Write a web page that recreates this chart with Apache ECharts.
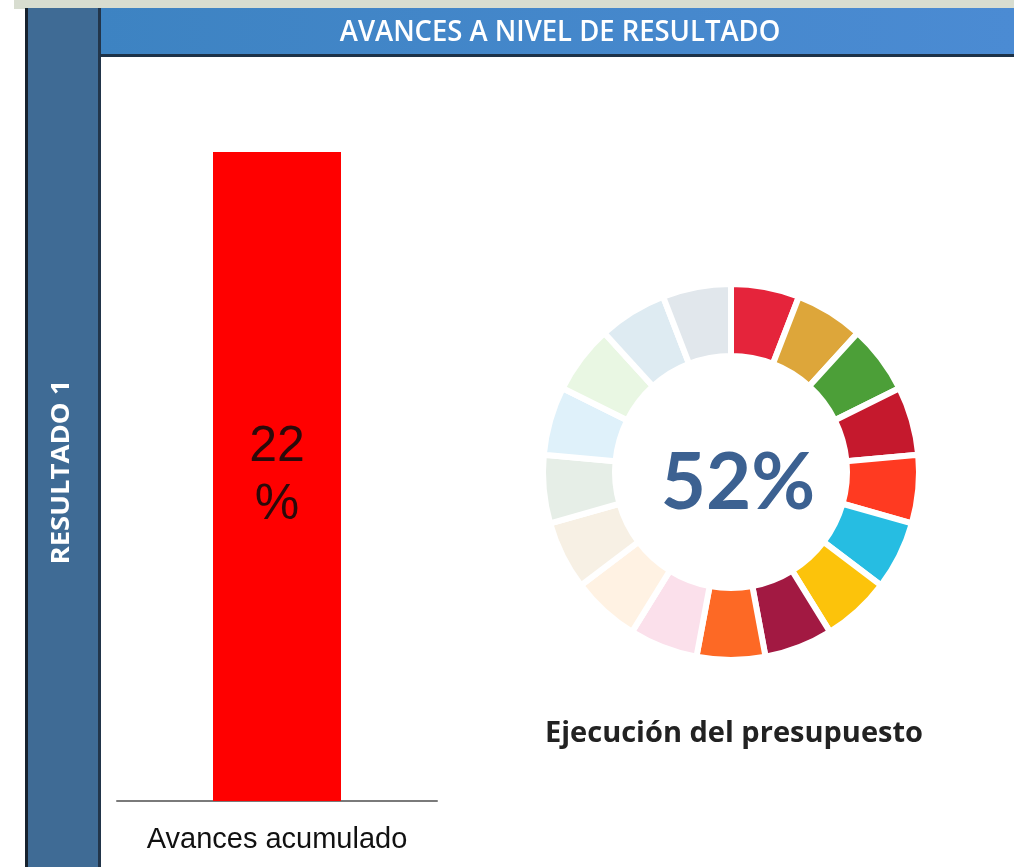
<!DOCTYPE html>
<html>
<head>
<meta charset="utf-8">
<script src="https://cdn.jsdelivr.net/npm/echarts@6/dist/echarts.min.js"></script>
<style>
  html, body { margin: 0; padding: 0; background: #fff; }
  #chart { width: 1014px; height: 867px; }
</style>
</head>
<body>
<div id="chart"></div>
<script>
// datos
const barCategories = ['Avances acumulado']
const barValues = [22]
const budgetPct = 52
// colores de los 17 segmentos (rueda ODS)
const goalColors = [
  '#E5243B', '#DDA63A', '#4C9F38', '#C5192D', '#FF3A21', '#26BDE2',
  '#FCC30B', '#A21942', '#FD6925', '#DD1367', '#FD9D24', '#BF8B2E',
  '#3F7E44', '#0A97D9', '#56C02B', '#00689D', '#19486A'
]
const goalActiveCount = 9

// mezcla un color con blanco (segmentos no alcanzados)
const fade = (hex, a) => {
  const n = parseInt(hex.slice(1), 16)
  const ch = [(n >> 16) & 255, (n >> 8) & 255, n & 255].map(v => Math.round(255 - (255 - v) * a))
  return `rgb(${ch.join(',')})`
}

const chart = echarts.init(document.getElementById('chart'))

chart.setOption({
  animation: false,
  backgroundColor: '#fff',
  graphic: [
    // franja superior
    { type: 'rect', shape: { x: 14, y: 0, width: 1000, height: 9 }, style: { fill: '#d8ddd0' }, z: -10 },
    // barra lateral
    { type: 'rect', shape: { x: 25, y: 8, width: 76, height: 859 }, style: { fill: '#3f6b95' }, z: -5 },
    { type: 'rect', shape: { x: 25, y: 8, width: 3, height: 859 }, style: { fill: '#17222e' }, z: -4 },
    { type: 'rect', shape: { x: 98, y: 8, width: 3, height: 859 }, style: { fill: '#22354a' }, z: -4 },
    // cabecera
    {
      type: 'rect', shape: { x: 100, y: 8, width: 914, height: 48 },
      style: {
        fill: new echarts.graphic.LinearGradient(0, 0, 1, 0, [
          { offset: 0, color: '#3d83c2' },
          { offset: 1, color: '#4b8bd3' }
        ])
      },
      z: -5
    },
    { type: 'rect', shape: { x: 100, y: 54, width: 914, height: 3 }, style: { fill: '#1d3248' }, z: -4 },
    {
      type: 'text', x: 560, y: 33, scaleX: 0.98,
      style: {
        text: 'AVANCES A NIVEL DE RESULTADO',
        fill: '#fff', font: '600 28px "Open Sans"',
        align: 'center', verticalAlign: 'middle'
      }
    },
    {
      type: 'text', x: 62, y: 472, rotation: Math.PI / 2, scaleX: 1.1,
      style: {
        text: 'RESULTADO 1',
        fill: '#fff', font: 'bold 25px "Open Sans"',
        align: 'center', verticalAlign: 'middle'
      }
    },
    // texto central de la dona
    {
      type: 'text', x: 738, y: 484,
      style: {
        text: budgetPct + '%',
        fill: '#3c6191', font: 'bold 78px Lato',
        align: 'center', verticalAlign: 'middle'
      }
    },
    {
      type: 'text', x: 734, y: 734,
      style: {
        text: 'Ejecución del presupuesto',
        fill: '#222', font: 'bold 29px "Open Sans"',
        align: 'center', verticalAlign: 'middle'
      }
    }
  ],
  grid: { left: 117, top: 152, width: 320, bottom: 66 },
  xAxis: {
    type: 'category',
    data: barCategories,
    axisLine: { lineStyle: { color: '#7a7a7a', width: 2 } },
    axisTick: { show: false },
    axisLabel: {
      color: '#111', fontSize: 29, margin: 24,
      fontFamily: '"Liberation Sans"'
    }
  },
  yAxis: { type: 'value', min: 0, max: 22, show: false },
  series: [
    {
      type: 'bar',
      data: barValues,
      barWidth: 128,
      itemStyle: { color: '#ff0000' },
      label: {
        show: true, position: 'inside',
        formatter: p => p.value + '\n%',
        color: '#2b0a0a', fontSize: 50, lineHeight: 58,
        fontFamily: '"Liberation Sans"'
      },
      silent: true
    },
    {
      type: 'pie',
      center: [731, 472],
      radius: [116, 188],
      startAngle: 90,
      silent: true,
      label: { show: false },
      labelLine: { show: false },
      data: goalColors.map((c, i) => ({
        value: 1,
        itemStyle: {
          color: i < goalActiveCount ? c : fade(c, 0.13),
          borderColor: '#fff',
          borderWidth: 6
        }
      }))
    }
  ]
})
</script>
</body>
</html>
